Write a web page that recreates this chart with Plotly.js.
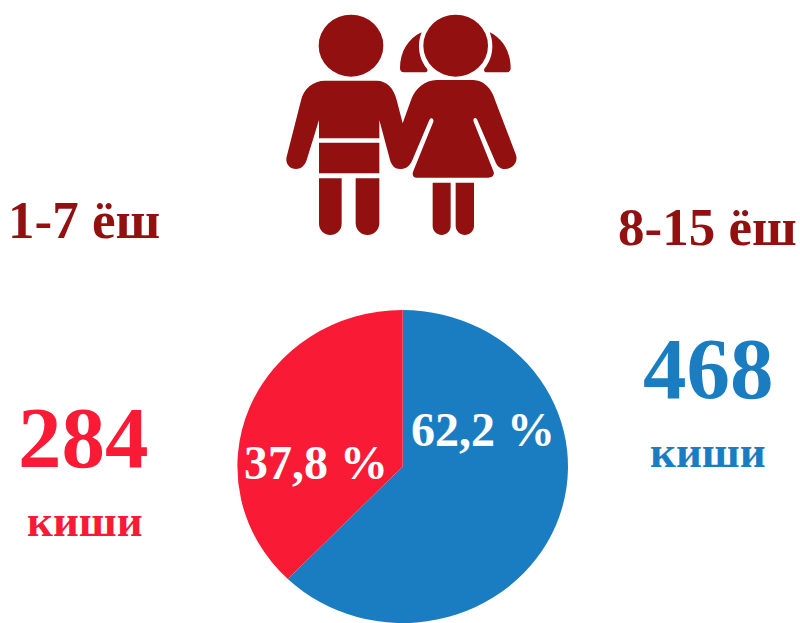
<!DOCTYPE html>
<html>
<head>
<meta charset="utf-8">
<script src="https://cdn.plot.ly/plotly-3.0.1.min.js"></script>
<style>html,body{margin:0;padding:0;background:#fff;overflow:hidden}#chart{width:800px;height:623px}</style>
</head>
<body>
<div id="chart"></div>
<script>
var ageGroups = ['8-15 ёш', '1-7 ёш'];
var counts = [468, 284];
var shares = ['62,2 %', '37,8 %'];
var unit = 'киши';
var sliceColors = ['#1b7dc1', '#f91b35'];
var iconColor = '#92100f';

var W = 800, H = 623;
function px(x){ return x / W; }
function py(y){ return 1 - y / H; }
// Icon outlines are written in a 780-wide local frame placed at (270,5), scale 1/3.
function ix(x){ return px(270 + x / 3); }
function iy(y){ return py(5 + y / 3); }
function iconPath(d){
  var s = d.replace(/(-?[\d.]+),(-?[\d.]+)/g, function(_, a, b){
    return ix(+a).toFixed(5) + ',' + iy(+b).toFixed(5);
  });
  return {type:'path', xref:'paper', yref:'paper', path:s, fillcolor:iconColor, line:{width:0}};
}
function iconCircle(cx, cy, rx, ry){
  return {type:'circle', xref:'paper', yref:'paper', x0:ix(cx-rx), x1:ix(cx+rx), y0:iy(cy+ry), y1:iy(cy-ry),
          fillcolor:iconColor, line:{width:0}};
}
function roundedLeg(x0, x1, y0, y1){
  var r = (x1 - x0) / 2;
  return iconPath('M ' + x0 + ',' + y0 + ' L ' + x1 + ',' + y0 + ' L ' + x1 + ',' + (y1 - r) +
    ' C ' + x1 + ',' + (y1 - r*0.4) + ' ' + (x1 - r*0.5) + ',' + y1 + ' ' + (x0 + r) + ',' + y1 +
    ' C ' + (x0 + r*0.5) + ',' + y1 + ' ' + x0 + ',' + (y1 - r*0.4) + ' ' + x0 + ',' + (y1 - r) + ' Z');
}
var shapes = [
  iconCircle(243, 122, 97, 93),
  iconCircle(557, 122, 97, 93),
  iconPath('M 455,82 C 415,100 390,140 390,190 C 390,198 395,202 402,202 L 465,202 C 472,202 475,197 470,190 C 455,170 447,150 447,122 C 447,108 450,95 455,82 Z'),
  iconPath('M 659,82 C 698,100 722,140 722,190 C 722,198 717,202 710,202 L 650,202 C 643,202 640,197 644,190 C 659,170 667,150 667,122 C 667,108 664,95 659,82 Z'),
  iconPath('M 165,227 L 320,227 C 350,227 372,250 380,285 L 398,355 L 425,280 C 437,250 465,225 500,225 L 610,225 C 640,225 665,250 675,285 L 738,450 C 745,475 725,492 705,492 C 692,492 682,485 676,470 L 622,345 C 618,335 607,338 611,350 L 670,498 C 675,510 667,518 655,518 L 440,518 C 430,518 425,510 430,498 L 490,350 C 492,338 482,336 478,345 L 425,470 C 415,488 402,492 390,492 C 375,492 365,482 360,465 L 328,345 L 328,400 L 147,400 L 147,345 L 110,465 C 105,482 92,492 78,492 C 58,492 45,475 50,455 L 92,290 C 100,250 130,227 165,227 Z'),
  iconPath('M 147,413 L 328,413 L 328,505 L 147,505 Z'),
  roundedLeg(147, 215, 520, 690),
  roundedLeg(257, 328, 520, 690),
  roundedLeg(488, 542, 533, 690),
  roundedLeg(557, 612, 533, 690)
];

function label(text, x, y, size, color){
  return {text:'<b>' + text + '</b>', xref:'paper', yref:'paper', x:px(x), y:py(y),
          xanchor:'center', yanchor:'middle', showarrow:false,
          font:{family:'"Liberation Serif", serif', size:size, color:color}};
}
var annotations = [
  label(ageGroups[1], 84, 220, 53, iconColor),
  label(ageGroups[0], 707, 227, 53, iconColor),
  label(counts[1], 83.5, 437, 87, sliceColors[1]),
  label(counts[0], 708, 368, 87, sliceColors[0]),
  label(unit, 85, 521, 45, sliceColors[1]),
  label(unit, 708, 452, 45, sliceColors[0]),
  label(shares[0], 482.5, 429, 48, '#ffffff'),
  label(shares[1], 315.5, 462, 48, '#ffffff')
];

var pieCx = 402.7, pieTop = 310, pieBottom = 623, pieRx = 165.3;
var pieRy = (pieBottom - pieTop) / 2;
var trace = {
  type:'pie', values:counts, labels:ageGroups, sort:false, direction:'clockwise', rotation:0,
  textinfo:'none', hoverinfo:'skip', showlegend:false,
  marker:{colors:sliceColors, line:{width:0}},
  domain:{x:[(pieCx - pieRy)/W, (pieCx + pieRy)/W], y:[1 - pieBottom/H, 1 - pieTop/H]}
};
var layout = {
  width:W, height:H, margin:{l:0, r:0, t:0, b:0, pad:0}, showlegend:false,
  paper_bgcolor:'#ffffff', plot_bgcolor:'#ffffff',
  shapes:shapes, annotations:annotations
};
Plotly.newPlot('chart', [trace], layout, {displayModeBar:false, staticPlot:true}).then(function(gd){
  // The source pie is slightly wider than tall.
  var k = pieRx / pieRy;
  var g = gd.querySelector('.pielayer');
  if (g) g.setAttribute('transform', 'translate(' + pieCx + ',0) scale(' + k + ',1) translate(' + (-pieCx) + ',0)');
});
</script>
</body>
</html>
